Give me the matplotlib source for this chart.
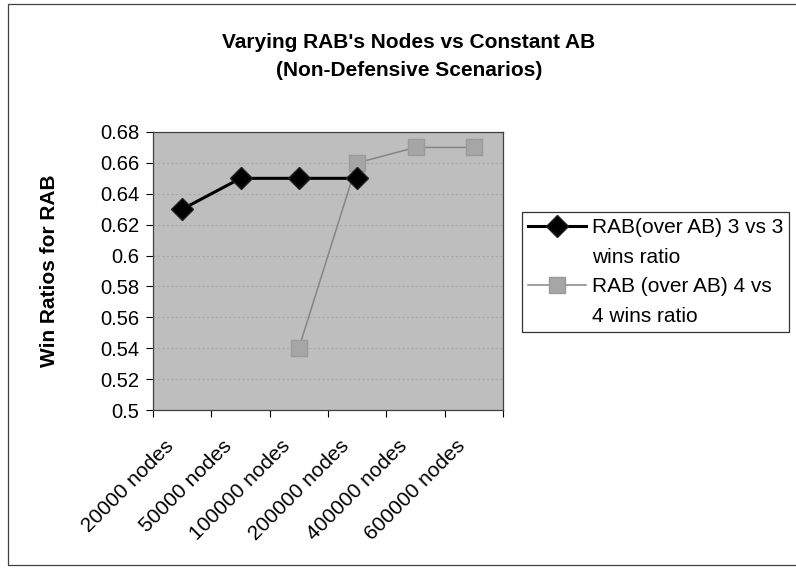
import matplotlib
matplotlib.use('Agg')
import matplotlib.pyplot as plt
import matplotlib.transforms as mtransforms
import numpy as np
from matplotlib.lines import Line2D
from matplotlib.patches import Rectangle

plt.rcParams['font.family'] = ['Liberation Sans', 'DejaVu Sans']

categorias = ['20000 nodes', '50000 nodes', '100000 nodes', '200000 nodes',
              '400000 nodes', '600000 nodes']
rab_3v3 = [0.63, 0.65, 0.65, 0.65, np.nan, np.nan]
rab_4v4 = [np.nan, np.nan, 0.54, 0.66, 0.67, 0.67]
yticks = [0.5, 0.52, 0.54, 0.56, 0.58, 0.6, 0.62, 0.64, 0.66, 0.68]
ytick_labels = ['0.5', '0.52', '0.54', '0.56', '0.58', '0.6', '0.62', '0.64',
                '0.66', '0.68']
legenda = ['RAB(over AB) 3 vs 3', 'wins ratio', 'RAB (over AB) 4 vs', '4 wins ratio']

W, H = 796, 569
fig = plt.figure(figsize=(W / 100, H / 100), dpi=100)
ax = fig.add_axes([153 / W, 1 - 410 / H, 350 / W, 278 / H])
ax.set_facecolor('#bebebe')

x = np.arange(len(categorias))
l1, = ax.plot(x, rab_3v3, color='black', lw=2.2, marker='D', ms=11,
              mfc='black', mec='#202020', zorder=4)
l2, = ax.plot(x, rab_4v4, color='#858585', lw=1.1, marker='s', ms=11,
              mfc='#a6a6a6', mec='#9a9a9a', zorder=3)

ax.set_xlim(-0.5, len(categorias) - 0.5)
ax.set_ylim(0.5, 0.68)
ax.set_yticks(yticks)
ax.set_yticklabels(ytick_labels, fontsize=14.5)
ax.yaxis.grid(True, color='#a8a8a8', lw=0.8, ls=(0, (2, 2)))
ax.set_axisbelow(True)

# ticks between categories, labels at category centres
ax.set_xticks(np.arange(len(categorias) + 1) - 0.5)
ax.set_xticklabels([])
ax.set_xticks(x, minor=True)
ax.set_xticklabels(categorias, minor=True, rotation=45, ha='right', va='top',
                   rotation_mode='anchor', fontsize=15)
ax.tick_params(axis='x', which='minor', length=0, pad=19)
ax.tick_params(axis='x', which='major', length=5, direction='out')
ax.tick_params(axis='y', length=5, direction='out', pad=5)
shift = mtransforms.ScaledTranslation(-0.18, 0, fig.dpi_scale_trans)
for lbl in ax.get_xticklabels(minor=True):
    lbl.set_transform(lbl.get_transform() + shift)
for s in ax.spines.values():
    s.set_color('#404040')
    s.set_linewidth(0.9)

fig.text(50 / W, 1 - 271 / H, 'Win Ratios for RAB', rotation=90,
         ha='center', va='center', fontsize=15, fontweight='bold')

fig.text(409 / W, 1 - 42 / H, "Varying RAB's Nodes vs Constant AB",
         ha='center', va='center', fontsize=15, fontweight='bold')
fig.text(409 / W, 1 - 71 / H, '(Non-Defensive Scenarios)',
         ha='center', va='center', fontsize=15, fontweight='bold')

# second line of each label as its own row so the marker sits on the first line
vazio = Line2D([], [], linestyle='none')
leg = fig.legend([l1, vazio, l2, vazio], legenda,
                 loc='upper left', bbox_to_anchor=(522 / W, 1 - 212 / H),
                 fontsize=15, frameon=True, fancybox=False, edgecolor='black',
                 handlelength=2.75, labelspacing=0.5, borderpad=0.3,
                 handletextpad=0.3, borderaxespad=0)
leg.get_frame().set_linewidth(0.9)

fig.patches.append(Rectangle((8 / W, 4 / H), 1.0, 561 / H,
                             transform=fig.transFigure, fill=False,
                             edgecolor='#404040', lw=0.9))

fig.savefig('out.png', dpi=100)
